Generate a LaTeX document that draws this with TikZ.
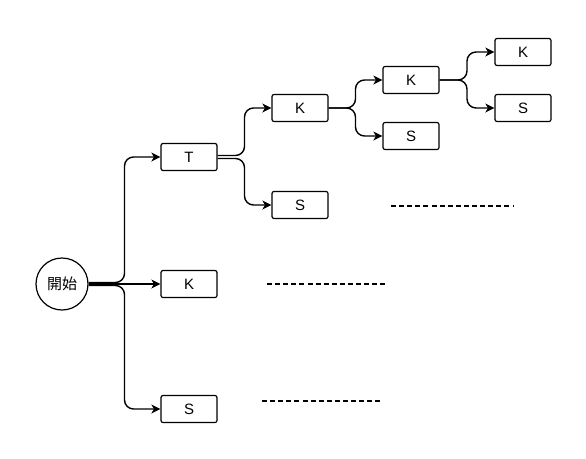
\documentclass[tikz,border=0pt]{standalone}
\usepackage{fontspec}
\setmainfont{Liberation Sans}
\newfontfamily\jpfont{Noto Sans CJK JP}
\usetikzlibrary{positioning}
\usetikzlibrary{calc}
\usetikzlibrary{arrows.meta}

\begin{document}
\begin{tikzpicture}[
    x=1pt,
    y=-1pt,
    >={Stealth[length=9pt,width=9pt,inset=2.5pt]},
    every node/.style={font=\fontsize{15}{17}\selectfont},
    choice/.style={draw,line width=1.2pt,rounded corners=2pt,
        minimum width=56pt,minimum height=27pt,inner sep=0pt},
    branch/.style={->,line width=1.4pt,rounded corners=9pt},
    trail/.style={line width=1.3pt,dash pattern=on 5pt off 3.1pt}
]

\useasboundingbox (0,0) rectangle (586,458);

%------------------------------------------------------------
% Start
%------------------------------------------------------------

\node[draw,circle,line width=1.2pt,minimum size=52pt,inner sep=0pt]
(start) at (62,284)
{\jpfont 開始};

%------------------------------------------------------------
% Choices
%------------------------------------------------------------

% first step
\node[choice] (t1) at (189,157) {T};
\node[choice] (k1) at (189,284) {K};
\node[choice] (s1) at (189,409) {S};

% after T
\node[choice] (k2) at (300,108) {K};
\node[choice] (s2) at (300,205) {S};

% after TK
\node[choice] (k3) at (411,80) {K};
\node[choice] (s3) at (411,136) {S};

% after TKK
\node[choice] (k4) at (523,52) {K};
\node[choice] (s4) at (523,108) {S};

%------------------------------------------------------------
% Junctions
%------------------------------------------------------------

\coordinate (j0) at ($(start.east)!0.5!(k1.west)$);
\coordinate (j1) at ($(t1.east)!0.5!(t1.east -| k2.west)$);
\coordinate (j2) at ($(k2.east)!0.5!(k2.east -| k3.west)$);
\coordinate (j3) at ($(k3.east)!0.5!(k3.east -| k4.west)$);

%------------------------------------------------------------
% Branches
%------------------------------------------------------------

\draw[branch]
([yshift=1.5pt]start.east)--([yshift=1.5pt]start.east -| j0)|-(t1.west);

\draw[branch]
(start.east)--(k1.west);

\draw[branch]
([yshift=-1.5pt]start.east)--([yshift=-1.5pt]start.east -| j0)|-(s1.west);

\draw[branch]
([yshift=1.5pt]t1.east)--([yshift=1.5pt]t1.east -| j1)|-(k2.west);

\draw[branch]
([yshift=-1.5pt]t1.east)--([yshift=-1.5pt]t1.east -| j1)|-(s2.west);

\draw[branch]
(k2.east)--(j2)|-(k3.west);

\draw[branch]
(k2.east)--(j2)|-(s3.west);

\draw[branch]
(k3.east)--(j3)|-(k4.west);

\draw[branch]
(k3.east)--(j3)|-(s4.west);

%------------------------------------------------------------
% Unexplored paths
%------------------------------------------------------------

\draw[trail] (391,206)--(513,206);

\draw[trail] (267,284)--(388,284);

\draw[trail] (262,401)--(383,401);

\end{tikzpicture}
\end{document}
